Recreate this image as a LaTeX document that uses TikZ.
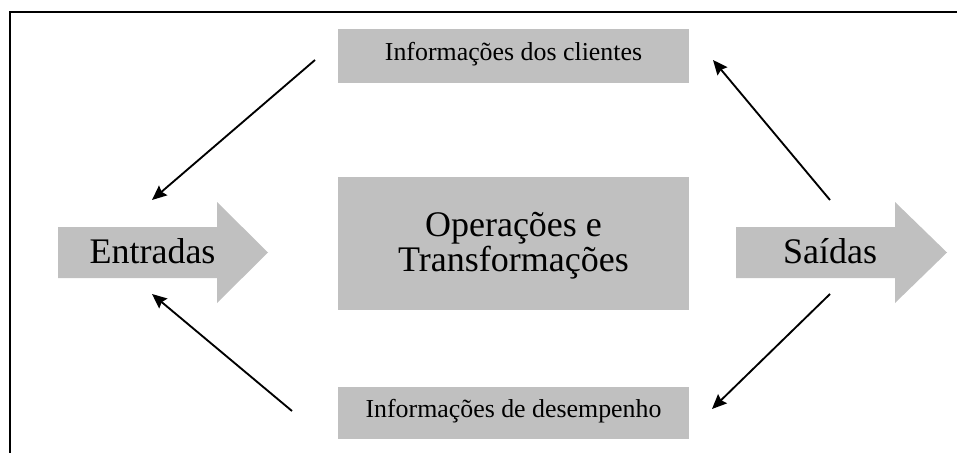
\documentclass[tikz,border=0pt]{standalone}
\usepackage{fontspec}
\setmainfont{Liberation Serif}
\usetikzlibrary{arrows.meta}
\definecolor{boxgray}{RGB}{192,192,192}
\begin{document}
\begin{tikzpicture}[x=0.75pt,y=-0.75pt,
  infobox/.style={fill=boxgray,draw=none,inner sep=0pt,minimum width=263.25pt,
    font=\fontsize{19.4pt}{23pt}\selectfont,text height=0.662em,text depth=0pt},
  opsbox/.style={fill=boxgray,draw=none,inner sep=0pt,minimum width=263.25pt,minimum height=99.75pt},
  bigtext/.style={font=\fontsize{27pt}{26.25pt}\selectfont,inner sep=0pt,align=center},
  fatarrow/.style={fill=boxgray,draw=none},
  flow/.style={line width=1.4pt,-{Stealth[length=11pt,width=9.5pt,inset=1.5pt]}},
  frame/.style={line width=1.1pt}]
\useasboundingbox (0,0) rectangle (957,453);
% frame (only top and left edges visible)
\draw[frame] (10,470) -- (10,12) -- (980,12);
% boxes
\node[infobox,minimum height=40.5pt] (cli) at (513.5,56) {Informações dos clientes};
\node[infobox,minimum height=39pt] (des) at (513.5,413) {Informações de desempenho};
\node[opsbox] (ops) at (513.5,243.5) {};
\node[bigtext,anchor=base] (opstext) at (513.5,271) {Operações e\\Transformações};
% big arrows
\fill[fatarrow] (58,227) -- (217,227) -- (217,202) -- (268,252.5) -- (217,303) -- (217,278) -- (58,278) -- cycle;
\node[bigtext,anchor=base] (ent) at (152.5,263) {Entradas};
\fill[fatarrow] (736,227) -- (895,227) -- (895,202) -- (947,252.5) -- (895,303) -- (895,278) -- (736,278) -- cycle;
\node[bigtext,anchor=base] (sai) at (830,263) {Saídas};
% feedback connectors
\coordinate (a1s) at (315,60);  \coordinate (a1e) at (152,200);
\coordinate (a2s) at (830,200); \coordinate (a2e) at (713,60);
\coordinate (a3s) at (292,411); \coordinate (a3e) at (152,294);
\coordinate (a4s) at (830,294); \coordinate (a4e) at (712,409);
\draw[flow] (a1s) -- (a1e);
\draw[flow] (a2s) -- (a2e);
\draw[flow] (a3s) -- (a3e);
\draw[flow] (a4s) -- (a4e);
\end{tikzpicture}
\end{document}
